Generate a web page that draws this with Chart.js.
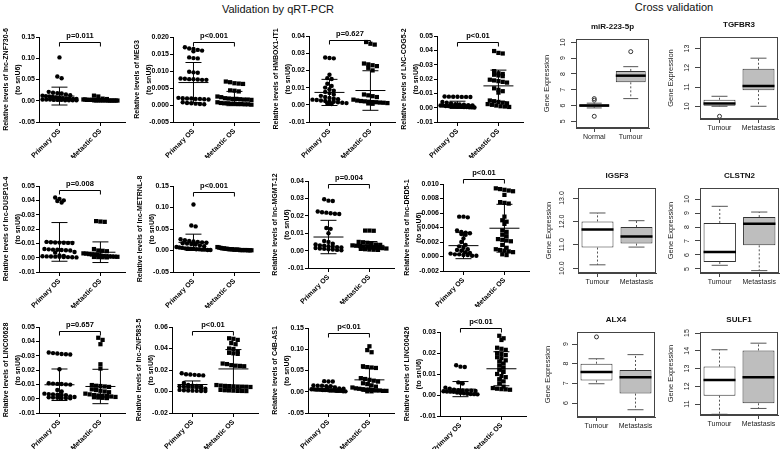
<!DOCTYPE html>
<html lang="en">
<head>
<meta charset="utf-8">
<title>Validation by qRT-PCR / Cross validation</title>
<script src="https://cdn.jsdelivr.net/npm/chart.js@4.4.1/dist/chart.umd.min.js"></script>
<style>
  body { margin: 0; background: #fff; }
  #fig { position: relative; width: 780px; height: 449px; overflow: hidden; font-family: "Liberation Sans", Arial, sans-serif; }
  .head { position: absolute; font-size: 11px; color: #111; transform: translateX(-50%); white-space: nowrap; }
  .panel { position: absolute; }
</style>
</head>
<body>
<div id="fig">
  <div class="head" style="left:278px;top:3px">Validation by qRT-PCR</div>
  <div class="head" style="left:674px;top:1px">Cross validation</div>
</div>
<script>
// ---- qRT-PCR scatter panels ----
var groups = ['Primary OS', 'Metastic OS'];
var genes = ['lnc-ZNF730-6', 'MEG3', 'HMBOX1-IT1', 'LNC-COG5-2',
             'lnc-DUSP10-4', 'lnc-METRNL-8', 'lnc-MGMT-12', 'lnc-DRD5-1',
             'LINC00628', 'lnc-ZNF583-5', 'C4B-AS1', 'LINC00426'];
var yMin  = [-0.05, -0.005, -0.01, -0.01, -0.01, -0.05, -0.01, -0.002, -0.01, -0.02, -0.05, -0.01];
var yMax  = [0.15, 0.020, 0.04, 0.05, 0.05, 0.15, 0.04, 0.010, 0.05, 0.06, 0.15, 0.03];
var yStep = [0.05, 0.005, 0.01, 0.01, 0.01, 0.05, 0.01, 0.002, 0.01, 0.02, 0.05, 0.01];
var yDec  = [2, 3, 2, 2, 2, 2, 2, 3, 2, 2, 2, 2];

var primary = [
  [0.102, 0.057, 0.053, 0.021, 0.019, 0.018, 0.017, 0.015, 0.013, 0.012, 0.011, 0.010, 0.009, 0.008, 0.007, 0.006, 0.005, 0.005, 0.004, 0.004, 0.003, 0.003, 0.003, 0.002, 0.002, 0.002, 0.001, 0.001, 0.001, 0.001],
  [0.0170, 0.0166, 0.0165, 0.0162, 0.0160, 0.0158, 0.0140, 0.0138, 0.0137, 0.0098, 0.0096, 0.0095, 0.0078, 0.0077, 0.0076, 0.0076, 0.0075, 0.0074, 0.0074, 0.0021, 0.0020, 0.0019, 0.0019, 0.0018, 0.0018, 0.0017, 0.0016, 0.0008, 0.0006, 0.0005, 0.0004, 0.0003, 0.0002],
  [0.0275, 0.0272, 0.0270, 0.0175, 0.0155, 0.0150, 0.0122, 0.0110, 0.0100, 0.0090, 0.0082, 0.0075, 0.0068, 0.0060, 0.0052, 0.0045, 0.0040, 0.0035, 0.0032, 0.0030, 0.0028, 0.0025, 0.0022, 0.0020, 0.0018, 0.0015, 0.0012, 0.0010, 0.0008, 0.0005],
  [0.0078, 0.0077, 0.0076, 0.0076, 0.0075, 0.0075, 0.0074, 0.0040, 0.0035, 0.0030, 0.0025, 0.0022, 0.0020, 0.0018, 0.0016, 0.0015, 0.0014, 0.0012, 0.0011, 0.0010, 0.0009, 0.0008, 0.0007, 0.0006, 0.0005, 0.0004, 0.0003, 0.0002, 0.0001],
  [0.0420, 0.0410, 0.0400, 0.0395, 0.0385, 0.0110, 0.0108, 0.0106, 0.0105, 0.0104, 0.0103, 0.0102, 0.0060, 0.0058, 0.0056, 0.0055, 0.0054, 0.0052, 0.0050, 0.0040, 0.0035, 0.0015, 0.0012, 0.0010, 0.0009, 0.0008, 0.0007, 0.0006, 0.0005, 0.0004, 0.0003, 0.0002],
  [0.107, 0.058, 0.056, 0.026, 0.024, 0.022, 0.021, 0.020, 0.019, 0.018, 0.017, 0.016, 0.015, 0.014, 0.012, 0.010, 0.008, 0.007, 0.006, 0.005, 0.005, 0.004, 0.004, 0.003, 0.003, 0.002, 0.002, 0.001, 0.001],
  [0.0295, 0.0287, 0.0285, 0.0225, 0.0220, 0.0218, 0.0215, 0.0212, 0.0210, 0.0130, 0.0125, 0.0100, 0.0055, 0.0050, 0.0040, 0.0035, 0.0030, 0.0028, 0.0025, 0.0022, 0.0020, 0.0018, 0.0015, 0.0012, 0.0010, 0.0008, 0.0006, 0.0004, 0.0002],
  [0.0055, 0.0055, 0.0054, 0.0036, 0.0034, 0.0033, 0.0032, 0.0031, 0.0030, 0.0025, 0.0020, 0.0016, 0.0014, 0.0012, 0.0010, 0.0009, 0.0008, 0.0006, 0.0005, 0.0004, 0.0003, 0.0003, 0.0002, 0.0002, 0.0001, 0.0001],
  [0.0322, 0.0318, 0.0315, 0.0312, 0.0310, 0.0308, 0.0205, 0.0108, 0.0105, 0.0103, 0.0102, 0.0100, 0.0098, 0.0060, 0.0050, 0.0035, 0.0032, 0.0030, 0.0028, 0.0026, 0.0024, 0.0015, 0.0012, 0.0010, 0.0008, 0.0006, 0.0005, 0.0004, 0.0003],
  [0.0170, 0.0160, 0.0158, 0.0155, 0.0152, 0.0150, 0.0080, 0.0060, 0.0055, 0.0052, 0.0050, 0.0048, 0.0046, 0.0045, 0.0044, 0.0042, 0.0030, 0.0025, 0.0015, 0.0012, 0.0010, 0.0008, 0.0006, 0.0005, 0.0004],
  [0.025, 0.024, 0.024, 0.015, 0.014, 0.014, 0.013, 0.013, 0.010, 0.008, 0.007, 0.006, 0.006, 0.005, 0.005, 0.005, 0.004, 0.004, 0.004, 0.003, 0.003, 0.003, 0.002, 0.002, 0.002, 0.001, 0.001],
  [0.0142, 0.0135, 0.0133, 0.0060, 0.0055, 0.0035, 0.0030, 0.0025, 0.0023, 0.0022, 0.0021, 0.0020, 0.0019, 0.0018, 0.0017, 0.0016, 0.0015, 0.0012, 0.0010, 0.0008, 0.0006, 0.0005, 0.0004, 0.0003]
];
var metastatic = [
  [0.012, 0.010, 0.005, 0.004, 0.003, 0.003, 0.002, 0.002, 0.002, 0.002, 0.001, 0.001, 0.001, 0.001, 0.001, 0.001, 0.001, 0.001, 0.0005, 0.0005, 0.0005, 0.0005, 0.0005, 0.0005],
  [0.0069, 0.0067, 0.0064, 0.0063, 0.0062, 0.0043, 0.0042, 0.0040, 0.0025, 0.0023, 0.0020, 0.0019, 0.0018, 0.0018, 0.0017, 0.0016, 0.0016, 0.0015, 0.0008, 0.0006, 0.0005, 0.0005, 0.0004, 0.0004, 0.0003, 0.0003, 0.0002, 0.0002, 0.0001],
  [0.0365, 0.0355, 0.0350, 0.0240, 0.0235, 0.0230, 0.0225, 0.0215, 0.0200, 0.0060, 0.0055, 0.0050, 0.0045, 0.0030, 0.0025, 0.0022, 0.0020, 0.0018, 0.0016, 0.0015, 0.0013, 0.0012, 0.0010, 0.0008, 0.0006],
  [0.0395, 0.0382, 0.0378, 0.0255, 0.0240, 0.0235, 0.0230, 0.0225, 0.0220, 0.0195, 0.0190, 0.0185, 0.0180, 0.0175, 0.0135, 0.0125, 0.0115, 0.0105, 0.0050, 0.0045, 0.0040, 0.0035, 0.0030, 0.0025, 0.0020, 0.0015, 0.0010, 0.0008, 0.0005],
  [0.0255, 0.0252, 0.0250, 0.0060, 0.0050, 0.0048, 0.0045, 0.0030, 0.0028, 0.0025, 0.0022, 0.0020, 0.0018, 0.0015, 0.0012, 0.0010, 0.0009, 0.0008, 0.0007, 0.0006, 0.0005, 0.0004, 0.0003, 0.0002],
  [0.008, 0.007, 0.006, 0.005, 0.005, 0.004, 0.004, 0.003, 0.003, 0.003, 0.002, 0.002, 0.002, 0.002, 0.001, 0.001, 0.001, 0.001, 0.001, 0.0005, 0.0005, 0.0005],
  [0.0115, 0.0115, 0.0114, 0.0050, 0.0048, 0.0045, 0.0042, 0.0035, 0.0033, 0.0030, 0.0028, 0.0026, 0.0024, 0.0022, 0.0020, 0.0018, 0.0016, 0.0014, 0.0012, 0.0010, 0.0008, 0.0006, 0.0005, 0.0004],
  [0.0094, 0.0093, 0.0092, 0.0091, 0.0090, 0.0085, 0.0075, 0.0074, 0.0073, 0.0055, 0.0050, 0.0048, 0.0045, 0.0036, 0.0034, 0.0030, 0.0028, 0.0024, 0.0023, 0.0022, 0.0021, 0.0016, 0.0012, 0.0010, 0.0009, 0.0008, 0.0007, 0.0006, 0.0003, 0.0002],
  [0.0425, 0.0410, 0.0380, 0.0240, 0.0210, 0.0095, 0.0090, 0.0088, 0.0085, 0.0082, 0.0065, 0.0060, 0.0055, 0.0050, 0.0045, 0.0035, 0.0030, 0.0025, 0.0022, 0.0020, 0.0018, 0.0015, 0.0012, 0.0010, 0.0008, 0.0006, 0.0004],
  [0.0495, 0.0490, 0.0480, 0.0450, 0.0440, 0.0400, 0.0395, 0.0370, 0.0360, 0.0355, 0.0350, 0.0260, 0.0255, 0.0245, 0.0240, 0.0238, 0.0235, 0.0060, 0.0055, 0.0052, 0.0050, 0.0048, 0.0046, 0.0045, 0.0044, 0.0042, 0.0015, 0.0012, 0.0010, 0.0008, 0.0006, 0.0005, 0.0004],
  [0.107, 0.098, 0.093, 0.060, 0.058, 0.057, 0.056, 0.032, 0.030, 0.028, 0.026, 0.024, 0.020, 0.018, 0.015, 0.012, 0.010, 0.008, 0.007, 0.006, 0.005, 0.005, 0.004, 0.003, 0.003, 0.002, 0.002, 0.001, 0.001],
  [0.0282, 0.0270, 0.0262, 0.0225, 0.0220, 0.0215, 0.0200, 0.0195, 0.0190, 0.0180, 0.0175, 0.0165, 0.0160, 0.0150, 0.0140, 0.0130, 0.0120, 0.0110, 0.0100, 0.0090, 0.0085, 0.0075, 0.0065, 0.0055, 0.0040, 0.0033, 0.0030, 0.0028, 0.0027, 0.0025]
];
// mean +/- SD as printed
var meanP = [0.011, 0.0066, 0.0072, 0.0020, 0.011, 0.019, 0.0078, 0.0015, 0.0097, 0.0065, 0.007, 0.0028];
var sdP   = [0.021, 0.0059, 0.0076, 0.0025, 0.0135, 0.019, 0.0096, 0.0018, 0.011, 0.0033, 0.006, 0.0036];
var meanM = [0.0025, 0.0019, 0.0083, 0.0152, 0.0038, 0.0025, 0.0030, 0.0039, 0.0085, 0.021, 0.028, 0.0125];
var sdM   = [0.003, 0.0021, 0.0115, 0.011, 0.0072, 0.002, 0.0022, 0.0033, 0.012, 0.018, 0.027, 0.0081];
var pText = ['p=0.011', 'p<0.001', 'p=0.627', 'p<0.01', 'p=0.008', 'p<0.001',
             'p=0.004', 'p<0.01', 'p=0.657', 'p<0.01', 'p<0.01', 'p<0.01'];
var bracketAt = [0.138, 0.0185, 0.0375, 0.0455, 0.047, 0.137, 0.0385, 0.0107, 0.0472, 0.0563, 0.1385, 0.032];

// ---- cross validation boxplots ----
var boxGenes = ['miR-223-5p', 'TGFBR3', 'IGSF3', 'CLSTN2', 'ALX4', 'SULF1'];
var boxGroups = [['Normal', 'Tumour'], ['Tumour', 'Metastasis'], ['Tumour', 'Metastasis'],
                 ['Tumour', 'Metastasis'], ['Tumour', 'Metastasis'], ['Tumour', 'Metastasis']];
var q1      = [[5.92, 7.47], [10.03, 10.84], [10.88, 11.05], [5.50, 6.69], [7.15, 6.48], [11.47, 11.04]];
var median  = [[6.00, 7.89], [10.14, 11.05], [11.65, 11.35], [6.21, 8.24], [7.58, 7.31], [12.36, 12.51]];
var q3      = [[6.08, 8.19], [10.34, 11.95], [12.00, 11.76], [8.29, 8.71], [8.00, 7.68], [13.11, 14.02]];
var whiskLo = [[5.85, 6.44], [10.00, 10.00], [10.14, 10.90], [5.26, 4.88], [6.98, 5.66], [10.42, 10.75]];
var whiskHi = [[6.15, 8.46], [10.52, 12.50], [12.36, 12.03], [9.48, 9.07], [8.25, 8.46], [14.06, 14.43]];
var outliers = [[[5.32, 6.34, 6.44], [9.41]], [[9.48], []], [[], []], [[], []], [[9.36], []], [[], []]];
var boxMin = [4.58, 9.34, 9.79, 4.71, 5.29, 10.38];
var boxMax = [10.21, 13.6, 13.43, 10.79, 9.61, 15.06];
var boxTicks = [[5, 6, 7, 8, 9, 10], [10, 11, 12, 13], [10, 11, 12, 13], [5, 6, 7, 8, 9, 10], [6, 7, 8, 9], [11, 12, 13, 14, 15]];

// where each panel sits on the page: [axis x, plot top, plot bottom] / [frame l, r, t, b]
var scatterSpots = [[39, 37, 122], [173, 37, 122], [309, 36, 122], [437, 36, 122],
                    [39, 186, 272], [173, 186, 272], [308, 181, 268], [443, 184, 271],
                    [39, 327, 413], [172, 327, 413], [308, 328, 413], [440, 332, 416]];
var boxSpots = [[576, 649, 39, 128], [700, 778, 37, 119], [578, 656, 188, 273],
                [700, 779, 188, 273], [577, 655, 332, 417], [700, 778, 332, 415]];

var FONT = '"Liberation Sans", Arial, sans-serif';
Chart.defaults.font.family = FONT;
var fig = document.getElementById('fig');

function makeCanvas(left, top, w, h) {
  var div = document.createElement('div');
  div.className = 'panel';
  div.style.left = left + 'px';
  div.style.top = top + 'px';
  var cv = document.createElement('canvas');
  cv.width = w; cv.height = h;
  cv.style.width = w + 'px'; cv.style.height = h + 'px';
  div.appendChild(cv);
  fig.appendChild(div);
  return cv;
}

// GraphPad style scatter: points with close values go in one row, spread sideways
function spread(values, center, pxX, pxY) {
  var d = 4.3, maxW = 34;
  var sorted = values.slice().sort(function (a, b) { return b - a; });
  var out = [], row = [];
  function flush() {
    var n = row.length;
    var s = n > 1 ? Math.min(d, maxW / (n - 1)) : 0;
    row.forEach(function (v, j) { out.push({ x: center + (j - (n - 1) / 2) * s / pxX, y: v }); });
    row = [];
  }
  sorted.forEach(function (v) {
    if (row.length && (row[0] - v) * pxY > d * 0.8) flush();
    row.push(v);
  });
  flush();
  return out;
}

function line(ctx, x1, y1, x2, y2) {
  ctx.beginPath(); ctx.moveTo(x1, y1); ctx.lineTo(x2, y2); ctx.stroke();
}

function meanBars(i) {
  return {
    id: 'meanBars' + i,
    afterDatasetsDraw: function (chart) {
      var ctx = chart.ctx, x = chart.scales.x, y = chart.scales.y;
      var m = [meanP[i], meanM[i]], s = [sdP[i], sdM[i]];
      ctx.save();
      ctx.strokeStyle = '#000';
      ctx.lineWidth = 1;
      for (var g = 0; g < 2; g++) {
        var cx = x.getPixelForValue(g + 1);
        var ym = y.getPixelForValue(m[g]);
        var yh = y.getPixelForValue(m[g] + s[g]);
        var yl = y.getPixelForValue(m[g] - s[g]);
        line(ctx, cx - 15, ym, cx + 15, ym);
        line(ctx, cx, yl, cx, yh);
        line(ctx, cx - 8, yh, cx + 8, yh);
        line(ctx, cx - 8, yl, cx + 8, yl);
      }
      var x1 = x.getPixelForValue(1), x2 = x.getPixelForValue(2);
      var by = Math.round(y.getPixelForValue(bracketAt[i])) + 0.5;
      ctx.beginPath();
      ctx.moveTo(x1, by + 4); ctx.lineTo(x1, by); ctx.lineTo(x2, by); ctx.lineTo(x2, by + 4);
      ctx.stroke();
      ctx.fillStyle = '#000';
      ctx.font = 'bold 7.5px ' + FONT;
      ctx.textAlign = 'center';
      ctx.textBaseline = 'bottom';
      ctx.fillText(pText[i], (x1 + x2) / 2, by - 3);
      ctx.restore();
    }
  };
}

function scatterChart(i) {
  var ax = scatterSpots[i][0], top = scatterSpots[i][1], bot = scatterSpots[i][2];
  var plotH = bot - top, padTop = 24, plotW = 86, xH = 36, padR = 4;
  var yW = yDec[i] === 3 ? 42 : 39;
  var cv = makeCanvas(ax - yW, top - padTop, yW + plotW + padR, padTop + plotH + xH);
  var pxX = plotW / 2.1, pxY = plotH / (yMax[i] - yMin[i]);
  var tickFont = { family: FONT, size: 7, weight: 'bold' };
  new Chart(cv, {
    type: 'scatter',
    data: {
      datasets: [
        { data: spread(primary[i], 1, pxX, pxY), pointStyle: 'circle', pointRadius: 2.2, backgroundColor: '#000', borderWidth: 0 },
        { data: spread(metastatic[i], 2, pxX, pxY), pointStyle: 'rect', pointRadius: 3, backgroundColor: '#000', borderWidth: 0 }
      ]
    },
    options: {
      responsive: false,
      animation: false,
      layout: { padding: { top: padTop, right: padR, left: 0, bottom: 0 } },
      plugins: { legend: { display: false }, tooltip: { enabled: false } },
      scales: {
        x: {
          type: 'linear', min: 0.5, max: 2.6,
          afterBuildTicks: function (s) { s.ticks = [{ value: 1 }, { value: 2 }]; },
          afterFit: function (s) { s.height = xH; },
          border: { display: true, color: '#000', width: 1 },
          grid: { display: true, drawOnChartArea: false, drawTicks: true, tickLength: 4, color: '#000' },
          ticks: { minRotation: 45, maxRotation: 45, padding: 1, color: '#000', font: tickFont,
                   callback: function (v) { return groups[v - 1]; } }
        },
        y: {
          min: yMin[i], max: yMax[i],
          afterBuildTicks: function (s) {
            var t = [];
            for (var v = yMin[i]; v <= yMax[i] + yStep[i] / 2; v += yStep[i]) t.push({ value: +v.toFixed(6) });
            s.ticks = t;
          },
          afterFit: function (s) { s.width = yW; },
          border: { display: true, color: '#000', width: 1 },
          grid: { display: true, drawOnChartArea: false, drawTicks: true, tickLength: 3, color: '#000' },
          ticks: { padding: 1, color: '#000', font: tickFont,
                   callback: function (v) { return (Math.abs(v) < 1e-9 ? 0 : v).toFixed(yDec[i]); } },
          title: { display: true, text: ['Relative levels of ' + genes[i], '(to snU6)'], color: '#000',
                   font: { family: FONT, size: 7, weight: 'bold', lineHeight: 1.75 }, padding: 0 }
        }
      }
    },
    plugins: [meanBars(i)]
  });
}

function boxExtras(k) {
  return {
    id: 'boxExtras' + k,
    afterDatasetsDraw: function (chart) {
      var ctx = chart.ctx, y = chart.scales.y, a = chart.chartArea;
      var bars = chart.getDatasetMeta(0).data;
      ctx.save();
      for (var g = 0; g < 2; g++) {
        var cx = bars[g].x, w = bars[g].width;
        var yh = y.getPixelForValue(whiskHi[k][g]), yl = y.getPixelForValue(whiskLo[k][g]);
        ctx.strokeStyle = '#555';
        ctx.lineWidth = 1;
        ctx.setLineDash([2, 2]);
        line(ctx, cx, y.getPixelForValue(q3[k][g]), cx, yh);
        line(ctx, cx, y.getPixelForValue(q1[k][g]), cx, yl);
        ctx.setLineDash([]);
        line(ctx, cx - w / 4, yh, cx + w / 4, yh);
        line(ctx, cx - w / 4, yl, cx + w / 4, yl);
        ctx.strokeStyle = '#000';
        ctx.lineWidth = 2.5;
        var ym = y.getPixelForValue(median[k][g]);
        line(ctx, cx - w / 2, ym, cx + w / 2, ym);
        ctx.lineWidth = 1;
        ctx.strokeStyle = '#333';
        outliers[k][g].forEach(function (v) {
          ctx.beginPath();
          ctx.arc(cx, y.getPixelForValue(v), 2, 0, 2 * Math.PI);
          ctx.stroke();
        });
      }
      ctx.strokeStyle = '#444';
      ctx.lineWidth = 1;
      ctx.strokeRect(a.left + 0.5, a.top + 0.5, a.right - a.left - 1, a.bottom - a.top - 1);
      // panel title, centred over the frame
      ctx.fillStyle = '#111';
      ctx.font = 'bold 8px ' + FONT;
      ctx.textAlign = 'center';
      ctx.textBaseline = 'middle';
      ctx.fillText(boxGenes[k], (a.left + a.right) / 2, a.top - 12);
      ctx.restore();
    }
  };
}

function boxChart(k) {
  var l = boxSpots[k][0], r = boxSpots[k][1], t = boxSpots[k][2], b = boxSpots[k][3];
  var yW = 36, titleH = 22, xH = 18;
  var cv = makeCanvas(l - yW, t - titleH, yW + (r - l) + 1, titleH + (b - t) + xH);
  var font = { family: FONT, size: 7 };
  new Chart(cv, {
    type: 'bar',
    data: {
      labels: boxGroups[k],
      datasets: [{
        data: [[q1[k][0], q3[k][0]], [q1[k][1], q3[k][1]]],
        backgroundColor: ['#ffffff', '#bebebe'],
        borderColor: '#333', borderWidth: 1, borderSkipped: false,
        categoryPercentage: 0.82, barPercentage: 1
      }]
    },
    options: {
      responsive: false,
      animation: false,
      layout: { padding: { top: titleH, right: 1, left: 0, bottom: 0 } },
      plugins: { legend: { display: false }, tooltip: { enabled: false } },
      scales: {
        x: {
          afterFit: function (s) { s.height = xH; },
          border: { display: true, color: '#444' },
          grid: { display: true, offset: false, drawOnChartArea: false, tickLength: 4, color: '#444' },
          ticks: { padding: 1, color: '#222', font: font, minRotation: 0, maxRotation: 0, autoSkip: false }
        },
        y: {
          min: boxMin[k], max: boxMax[k],
          afterBuildTicks: function (s) { s.ticks = boxTicks[k].map(function (v) { return { value: v }; }); },
          afterFit: function (s) { s.width = yW; },
          border: { display: true, color: '#444' },
          grid: { display: true, drawOnChartArea: false, tickLength: 5, color: '#444' },
          ticks: { minRotation: 90, maxRotation: 90, crossAlign: 'center', padding: 4, color: '#222', font: font,
                   callback: function (v) { return k === 2 ? v.toFixed(1) : String(v); } },
          title: { display: true, text: 'Gene Expression', color: '#222', font: { family: FONT, size: 7.5 },
                   padding: { top: 2.5, bottom: 0 } }
        }
      }
    },
    plugins: [boxExtras(k)]
  });
}

for (var i = 0; i < genes.length; i++) scatterChart(i);
for (var k = 0; k < boxGenes.length; k++) boxChart(k);
</script>
</body>
</html>
